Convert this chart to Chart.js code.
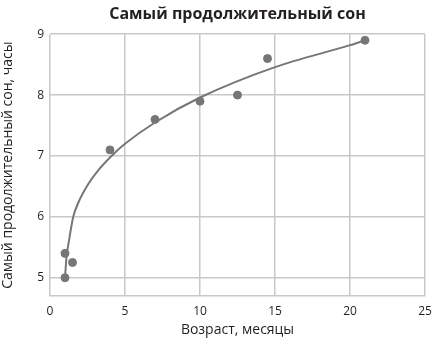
<!DOCTYPE html>
<html>
<head>
<meta charset="utf-8">
<script src="https://cdn.jsdelivr.net/npm/chart.js@4"></script>
<style>
html, body { margin: 0; padding: 0; background: #fff; }
#wrap { width: 437px; height: 344px; }
</style>
</head>
<body>
<div id="wrap"><canvas id="sleepChart" width="437" height="344"></canvas></div>
<script>
/* data */
const ageMonths = [1, 1, 1.5, 4, 7, 10, 12.5, 14.5, 21];
const sleepHours = [5.0, 5.4, 5.25, 7.1, 7.6, 7.9, 8.0, 8.6, 8.9];

/* trend line, points */
const trendX = [1, 1.1, 1.3, 1.55, 1.9, 2.55, 3.2, 4.1, 5, 7, 10, 15, 20, 21];
const trendY = [5.0, 5.33, 5.66, 6.0, 6.24, 6.54, 6.76, 7.0, 7.2, 7.55, 7.96, 8.46, 8.82, 8.9];

const xTicks = [0, 5, 10, 15, 20, 25];
const yTicks = [5, 6, 7, 8, 9];

const FONT = "'Open Sans', 'Noto Sans', sans-serif";
const TEXT = "#231f20";
const GRID = "#c8c8c8";
const MARK = "#767676";

new Chart(
    document.getElementById("sleepChart"),
    {
        type: "scatter",

        data: {
            datasets: [
                {
                    label: "Сон",
                    data: ageMonths.map((a, i) => ({ x: a, y: sleepHours[i] })),
                    backgroundColor: MARK,
                    borderColor: MARK,
                    pointRadius: 4,
                    pointHoverRadius: 4,
                    order: 1
                },
                {
                    label: "Тренд",
                    data: trendX.map((a, i) => ({ x: a, y: trendY[i] })),
                    showLine: true,
                    borderColor: MARK,
                    borderWidth: 2,
                    pointRadius: 0,
                    cubicInterpolationMode: "monotone",
                    order: 2
                }
            ]
        },

        options: {
            responsive: false,
            animation: false,
            layout: { padding: { right: 12 } },

            plugins: {
                legend: { display: false },
                tooltip: { enabled: false },
                title: {
                    display: true,
                    fullSize: false,
                    text: "Самый продолжительный сон",
                    color: TEXT,
                    font: { family: FONT, size: 16, weight: "bold" },
                    padding: { top: 5, bottom: 10 }
                }
            },

            scales: {
                x: {
                    type: "linear",
                    min: 0,
                    max: 25,
                    afterBuildTicks: s => { s.ticks = xTicks.map(v => ({ value: v })); },
                    afterFit: s => {
                        s.height = 48;
                        s.paddingLeft = 0;
                        s.paddingRight = 0;
                    },
                    grid: { color: GRID, lineWidth: 1.5, drawTicks: false },
                    border: { color: GRID, width: 1.5 },
                    ticks: {
                        color: TEXT,
                        padding: 8,
                        font: { family: FONT, size: 12 }
                    },
                    title: {
                        display: true,
                        text: "Возраст, месяцы",
                        color: TEXT,
                        font: { family: FONT, size: 14 },
                        padding: { top: 2, bottom: 6 }
                    }
                },
                y: {
                    type: "linear",
                    min: 4.7,
                    max: 9,
                    afterBuildTicks: s => { s.ticks = yTicks.map(v => ({ value: v })); },
                    afterFit: s => {
                        s.width = 50;
                        s.paddingTop = 0;
                        s.paddingBottom = 0;
                    },
                    grid: { color: GRID, lineWidth: 1.5, drawTicks: false },
                    border: { display: false },
                    ticks: {
                        color: TEXT,
                        padding: 6,
                        font: { family: FONT, size: 12 }
                    },
                    title: {
                        display: true,
                        text: "Самый продолжительный сон, часы",
                        color: TEXT,
                        font: { family: FONT, size: 14 },
                        padding: { top: 0, bottom: 2 }
                    }
                }
            }
        }
    }
);
</script>
</body>
</html>
